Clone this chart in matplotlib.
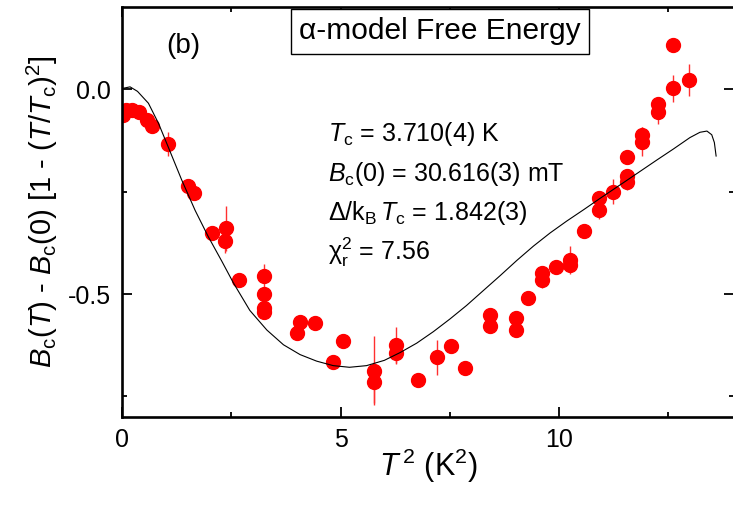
import matplotlib
matplotlib.use("Agg")
import matplotlib.pyplot as plt
from matplotlib.ticker import MultipleLocator

plt.rcParams['font.family'] = ['Liberation Sans', 'DejaVu Sans']
plt.rcParams['mathtext.fontset'] = 'custom'
plt.rcParams['mathtext.rm'] = 'Liberation Sans'
plt.rcParams['mathtext.it'] = 'Liberation Sans:italic'
plt.rcParams['mathtext.bf'] = 'Liberation Sans:bold'
plt.rcParams['axes.unicode_minus'] = False

# measured deviation function, T^2 in K^2
t2 = [0.02, 0.09, 0.22, 0.38, 0.57, 0.68, 1.05, 1.51, 1.64, 2.05,
      2.37, 2.35, 2.67, 3.24, 3.24, 3.24, 3.24, 4.07, 3.99, 4.41,
      5.06, 4.83, 5.76, 5.76, 6.26, 6.26, 6.76, 7.21, 7.53, 7.84,
      8.42, 8.42, 9.00, 9.00, 9.29, 9.61, 9.61, 9.92, 10.25, 10.25,
      10.57, 10.90, 10.90, 11.24, 11.54, 11.54, 11.56, 11.90, 11.90, 12.25,
      12.25, 12.61, 12.61, 12.96]
dev = [-0.063, -0.050, -0.050, -0.055, -0.075, -0.090, -0.134, -0.236, -0.254, -0.350,
       -0.340, -0.370, -0.465, -0.456, -0.500, -0.533, -0.545, -0.568, -0.596, -0.570,
       -0.615, -0.665, -0.687, -0.716, -0.625, -0.645, -0.710, -0.655, -0.628, -0.680,
       -0.551, -0.577, -0.558, -0.588, -0.510, -0.449, -0.466, -0.435, -0.417, -0.430,
       -0.345, -0.266, -0.296, -0.250, -0.226, -0.212, -0.166, -0.112, -0.128, -0.037,
       -0.055, 0.002, 0.108, 0.023]
dev_err = [0.012, 0.015, 0.015, 0.012, 0.012, 0.012, 0.030, 0.012, 0.012, 0.012,
           0.056, 0.031, 0.012, 0.030, 0.012, 0.012, 0.012, 0.012, 0.012, 0.012,
           0.012, 0.012, 0.085, 0.050, 0.044, 0.027, 0.012, 0.042, 0.012, 0.012,
           0.012, 0.015, 0.012, 0.015, 0.012, 0.012, 0.020, 0.012, 0.034, 0.015,
           0.012, 0.015, 0.020, 0.030, 0.020, 0.015, 0.012, 0.020, 0.035, 0.015,
           0.030, 0.032, 0.012, 0.040]

# alpha-model fit curve
fit_t2 = [0.0, 0.18, 0.35, 0.6, 0.83, 1.05, 1.36, 1.67, 1.97, 2.28,
          2.54, 2.92, 3.31, 3.69, 4.07, 4.45, 4.83, 5.2, 5.59, 6.0,
          6.36, 6.74, 7.12, 7.5, 7.88, 8.27, 8.65, 9.03, 9.41, 9.79,
          10.17, 10.56, 10.94, 11.47, 12.23, 12.61, 12.99, 13.22, 13.38, 13.49,
          13.55, 13.59]
fit_dev = [0.002, 0.006, -0.005, -0.034, -0.083, -0.140, -0.221, -0.296, -0.360, -0.420,
           -0.472, -0.540, -0.588, -0.624, -0.648, -0.664, -0.675, -0.679, -0.675, -0.662,
           -0.643, -0.620, -0.592, -0.561, -0.528, -0.491, -0.455, -0.418, -0.383, -0.351,
           -0.322, -0.294, -0.266, -0.228, -0.173, -0.146, -0.118, -0.105, -0.102, -0.111,
           -0.130, -0.163]

fig = plt.figure(figsize=(7.33, 5.12), dpi=100)
ax = fig.add_axes([0.1667, 0.1859, 0.8347, 0.7996])

ax.errorbar(t2, dev, yerr=dev_err, fmt='o', color='red', ecolor='#ff3030',
            markersize=10, elinewidth=1.0, capsize=0, zorder=2)
ax.plot(fit_t2, fit_dev, color='black', linewidth=0.8, zorder=3)

ax.set_xlim(0, 14)
ax.set_ylim(-0.8, 0.2)
ax.xaxis.set_major_locator(MultipleLocator(5))
ax.xaxis.set_minor_locator(MultipleLocator(2.5))
ax.yaxis.set_major_locator(MultipleLocator(0.5))
ax.yaxis.set_minor_locator(MultipleLocator(0.25))
ax.tick_params(which='both', direction='in', top=True, right=True, width=1.3,
               labelsize=18, pad=8)
ax.tick_params(which='major', length=7)
ax.tick_params(which='minor', length=3.5)
for s in ax.spines.values():
    s.set_linewidth(1.9)

ax.set_xlabel(r'$T^{\,2}$ (K$^2$)', fontsize=22, labelpad=-4)
ax.set_ylabel(r'$B_{\rm c}$($T$) - $B_{\rm c}$(0) [1 - ($T$/$T_{\rm c}$)$^2$]',
              fontsize=21, labelpad=6)

ax.text(0.10, 0.905, '(b)', transform=ax.transAxes, fontsize=20,
        ha='center', va='center')
ax.text(0.519, 0.942, 'α-model Free Energy', transform=ax.transAxes,
        fontsize=21.5, ha='center', va='center', zorder=5,
        bbox=dict(boxstyle='square,pad=0.28', fc='white', ec='black', lw=1.0))

params = [r'$T_{\rm c}$ = 3.710(4) K',
          r'$B_{\rm c}$(0) = 30.616(3) mT',
          r'$\Delta$/k$_{\rm B}$$\,T_{\rm c}$ = 1.842(3)',
          r'χ$^2_{\rm r}$ = 7.56']
for i, line in enumerate(params):
    ax.text(0.337, 0.674 - 0.097 * i, line, transform=ax.transAxes,
            fontsize=18, ha='left', va='baseline')

fig.savefig('out.png', dpi=100)
